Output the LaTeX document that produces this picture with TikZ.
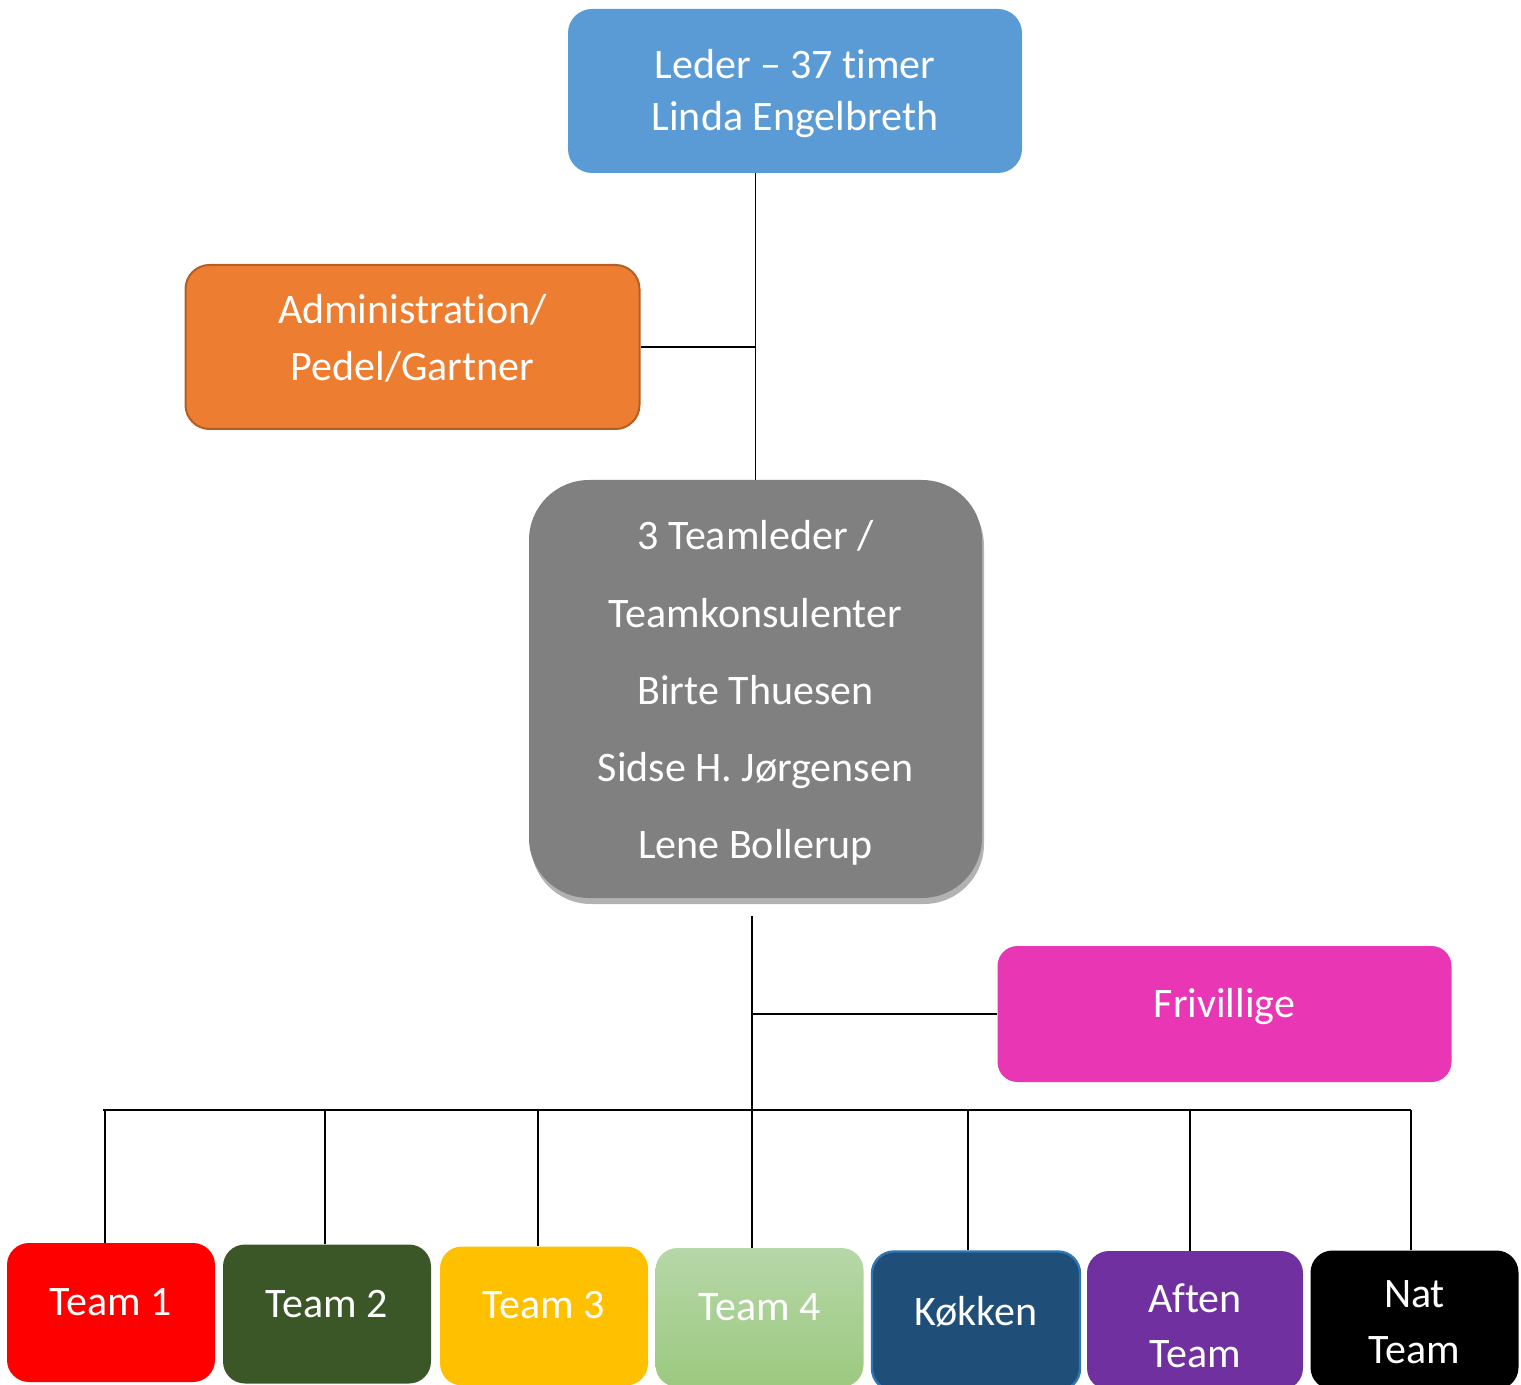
\documentclass[tikz,border=0pt]{standalone}
\usepackage{fontspec}
\setmainfont{Carlito}[Ligatures={TeX,NoCommon}]
\usetikzlibrary{shadows}
\definecolor{leadblue}{HTML}{5B9BD5}
\definecolor{adminorange}{HTML}{ED7D31}
\definecolor{adminborder}{HTML}{B35F24}
\definecolor{boxgray}{HTML}{808080}
\definecolor{frivpink}{HTML}{E936B4}
\definecolor{teamred}{HTML}{FF0000}
\definecolor{teamgreen}{HTML}{3B5727}
\definecolor{teamyellow}{HTML}{FFC000}
\definecolor{teamlgtop}{HTML}{B6D7A8}
\definecolor{teamlgbot}{HTML}{9CC97F}
\definecolor{kokfill}{HTML}{1F4E79}
\definecolor{kokborder}{HTML}{2E75B6}
\definecolor{aftenpurple}{HTML}{7030A0}
% one line, baseline at #1 from the box centre
\newcommand\boxtxt[2]{\raisebox{#1}[0pt][0pt]{#2}}
% several lines, last baseline at #1 from the box centre
\newcommand\boxlines[2]{\raisebox{#1}[0pt][0pt]{\begin{tabular}[b]{@{}c@{}}#2\end{tabular}}}
\tikzset{
  orgbox/.style={rectangle, text=white, inner sep=0pt,
    font=\fontsize{21}{26}\selectfont},
  bigbox/.style={orgbox, minimum width=227pt, minimum height=82pt, rounded corners=12pt},
  teambox/.style={orgbox, minimum width=104pt, minimum height=69.5pt, rounded corners=11pt,
    font=\fontsize{21}{27.5}\selectfont},
  conn/.style={draw=black, line width=0.7pt}
}
\begin{document}
\begin{tikzpicture}[x=0.5pt,y=-0.5pt]
\useasboundingbox (0,0) rectangle (1521,1385);
\clip (0,0) rectangle (1521,1385);
% upper boxes
\node[bigbox, fill=leadblue] (lead) at (795,91) {\boxlines{-20pt}{Leder -- 37 timer\\Linda Engelbreth}};
\node[bigbox, fill=adminorange, draw=adminborder, line width=1pt, font=\fontsize{21}{28.5}\selectfont] (admin) at (412.5,347) {\boxlines{-17pt}{Administration/\\Pedel/Gartner}};
\node[orgbox, fill=boxgray, minimum width=226.5pt, minimum height=209pt, rounded corners=30pt,
  font=\fontsize{21}{38.65}\selectfont,
  drop shadow={opacity=0.3, shadow xshift=1pt, shadow yshift=-3pt, fill=black}] (gray) at (755.5,689)
  {\boxlines{-85pt}{3 Teamleder /\\Teamkonsulenter\\Birte Thuesen\\Sidse H. Jørgensen\\Lene Bollerup}};
\node[bigbox, fill=frivpink, minimum height=68pt, rounded corners=10pt] (friv) at (1224.5,1014) {\boxtxt{-1.5pt}{Frivillige}};
% team boxes
\node[teambox, fill=teamred] (t1) at (111,1312.5) {\boxtxt{-1.25pt}{Team 1}};
\node[teambox, fill=teamgreen] (t2) at (327,1314) {\boxtxt{-1.5pt}{Team 2}};
\node[teambox, fill=teamyellow] (t3) at (544,1316) {\boxtxt{-1pt}{Team 3}};
\node[teambox, top color=teamlgtop, bottom color=teamlgbot] (t4) at (759.5,1317.5) {\boxtxt{-1.25pt}{Team 4}};
\node[teambox, fill=kokfill, draw=kokborder, line width=1.2pt] (kok) at (976,1321) {\boxtxt{-2pt}{Køkken}};
\node[teambox, fill=aftenpurple, minimum width=108pt] (aften) at (1195,1320.5) {\boxlines{-23.25pt}{Aften\\Team}};
\node[teambox, fill=black, font=\fontsize{21}{28}\selectfont] (nat) at (1414.5,1320) {\boxlines{-21.5pt}{Nat\\Team}};
% connectors
\coordinate (busL) at (103,1110);
\coordinate (busR) at (1411,1110);
\coordinate (gbot) at (752,916);
\draw[conn] (gray.north |- lead.south) -- (gray.north);
\draw[conn] (admin.east) -- (admin.east -| gray.north);
\draw[conn] (gbot) -- ([xshift=-3.75pt]t4.north);
\draw[conn] (friv.west) -- (friv.west -| gbot);
\draw[conn] (busL) -- (busR);
\draw[conn] ([xshift=-3pt]t1.north |- busL) -- ([xshift=-3pt]t1.north);
\draw[conn] ([xshift=-1pt]t2.north |- busL) -- ([xshift=-1pt]t2.north);
\draw[conn] ([xshift=-3pt]t3.north |- busL) -- ([xshift=-3pt]t3.north);
\draw[conn] ([xshift=-4pt]kok.north |- busL) -- ([xshift=-4pt]kok.north);
\draw[conn] ([xshift=-2.5pt]aften.north |- busL) -- ([xshift=-2.5pt]aften.north);
\draw[conn] (busR) -- ([xshift=-1.75pt]nat.north);
\end{tikzpicture}
\end{document}
